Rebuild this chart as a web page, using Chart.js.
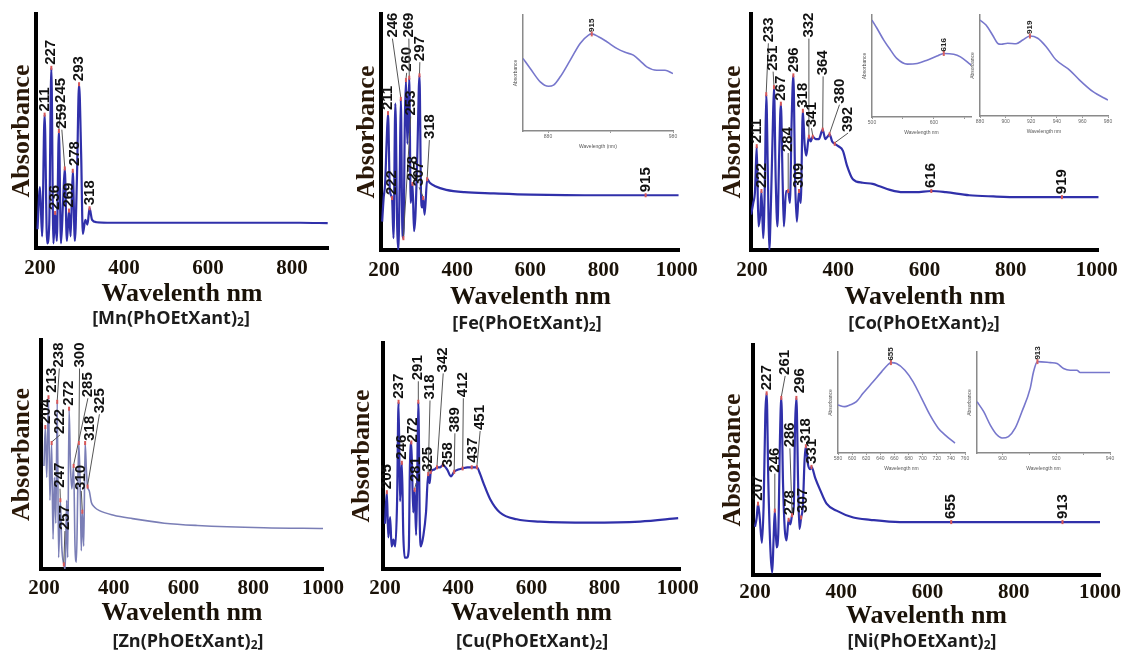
<!DOCTYPE html>
<html><head><meta charset="utf-8">
<script src="https://cdn.jsdelivr.net/npm/chart.js@4.4.1/dist/chart.umd.min.js"></script>
<style>
html,body{margin:0;padding:0;background:#fff;}
body{width:1127px;height:652px;position:relative;overflow:hidden;}
canvas{position:absolute;}
.cmp{position:absolute;transform:translate(-50%,-50%);font-family:"Open Sans","Noto Sans",sans-serif;font-weight:700;font-size:18px;color:#1c1c1c;white-space:nowrap;line-height:1;}
.cmp sub{font-size:12px;vertical-align:-2px;}
</style></head><body>
<script>
// ---------- data ----------
const ticksMn = [200, 400, 600, 800];
const ticksFull = [200, 400, 600, 800, 1000];

const mnWl  = [194, 200, 205, 211, 217, 222, 227, 232, 236, 240, 245, 250, 255, 259, 264, 269, 273, 278, 283, 288, 293, 298, 302, 308, 313, 318, 324, 335, 360, 500, 700, 820, 885];
const mnAbs = [0.08, 0.26, 0.05, 0.57, 0.02, 0.10, 0.77, 0.02, 0.15, 0.03, 0.50, 0.02, 0.20, 0.34, 0.03, 0.16, 0.05, 0.33, 0.03, 0.30, 0.70, 0.40, 0.06, 0.12, 0.10, 0.17, 0.12, 0.11, 0.108, 0.108, 0.108, 0.108, 0.106];
const mnPeaks = [211, 227, 236, 245, 259, 269, 278, 293, 318];

const feWl  = [195, 199, 203, 207, 211, 216, 222, 226, 231, 236, 239, 243, 246, 250, 253, 257, 260, 264, 269, 273, 278, 282, 286, 291, 297, 301, 304, 307, 311, 318, 325, 340, 370, 420, 500, 600, 800, 915, 1005];
const feAbs = [0.12, 0.22, 0.28, 0.45, 0.58, 0.25, 0.22, 0.05, 0.62, 0.10, 0.00, 0.30, 0.64, 0.10, 0.05, 0.55, 0.72, 0.45, 0.73, 0.20, 0.28, 0.08, 0.15, 0.40, 0.74, 0.25, 0.18, 0.22, 0.15, 0.30, 0.285, 0.27, 0.255, 0.245, 0.24, 0.235, 0.232, 0.232, 0.232];
const fePeaks = [211, 222, 246, 253, 260, 269, 278, 297, 307, 318, 915];

const coWl  = [198, 203, 207, 211, 215, 219, 222, 226, 230, 233, 237, 240, 244, 248, 251, 255, 259, 263, 267, 271, 274, 279, 284, 288, 292, 296, 300, 304, 309, 313, 318, 322, 326, 332, 336, 341, 348, 355, 364, 370, 375, 380, 386, 392, 400, 411, 420, 434, 457, 480, 496, 520, 550, 580, 616, 650, 704, 760, 820, 919, 1004];
const coAbs = [0.15, 0.20, 0.25, 0.44, 0.10, 0.15, 0.25, 0.05, 0.30, 0.66, 0.30, 0.00, 0.20, 0.50, 0.69, 0.30, 0.10, 0.40, 0.62, 0.30, 0.10, 0.25, 0.25, 0.20, 0.55, 0.74, 0.30, 0.12, 0.25, 0.20, 0.59, 0.45, 0.40, 0.48, 0.46, 0.48, 0.47, 0.47, 0.51, 0.47, 0.48, 0.49, 0.46, 0.45, 0.44, 0.42, 0.36, 0.30, 0.285, 0.28, 0.27, 0.255, 0.245, 0.245, 0.25, 0.245, 0.232, 0.227, 0.224, 0.224, 0.224];
const coPeaks = [211, 222, 233, 251, 267, 284, 296, 309, 318, 332, 341, 364, 380, 392, 616, 919];

const znWl  = [200, 204, 208, 213, 217, 222, 226, 230, 234, 238, 242, 247, 251, 257, 261, 265, 268, 272, 276, 280, 285, 289, 293, 297, 300, 304, 307, 310, 314, 318, 322, 325, 330, 336, 345, 359, 400, 454, 545, 640, 830, 1000];
const znAbs = [0.45, 0.62, 0.40, 0.75, 0.30, 0.55, 0.13, 0.40, 0.20, 0.73, 0.05, 0.30, 0.10, 0.02, 0.00, 0.30, 0.05, 0.70, 0.45, 0.35, 0.45, 0.10, 0.03, 0.35, 0.55, 0.35, 0.08, 0.25, 0.10, 0.55, 0.42, 0.36, 0.34, 0.29, 0.27, 0.255, 0.235, 0.22, 0.20, 0.19, 0.18, 0.177];
const znPeaks = [204, 213, 222, 238, 247, 257, 272, 285, 300, 310, 318, 325];

const cuWl  = [200, 205, 209, 214, 218, 223, 228, 233, 237, 241, 246, 250, 254, 260, 265, 268, 272, 277, 281, 285, 288, 291, 295, 298, 305, 312, 318, 322, 325, 335, 342, 350, 358, 370, 380, 389, 400, 412, 425, 437, 451, 460, 469, 487, 514, 560, 623, 760, 897, 1001];
const cuAbs = [0.20, 0.34, 0.14, 0.23, 0.10, 0.13, 0.10, 0.30, 0.74, 0.30, 0.47, 0.15, 0.05, 0.05, 0.09, 0.45, 0.56, 0.25, 0.35, 0.15, 0.40, 0.74, 0.20, 0.10, 0.15, 0.25, 0.42, 0.38, 0.43, 0.44, 0.45, 0.45, 0.46, 0.44, 0.41, 0.43, 0.44, 0.445, 0.45, 0.45, 0.45, 0.42, 0.38, 0.31, 0.25, 0.22, 0.21, 0.205, 0.21, 0.225];
const cuPeaks = [205, 237, 246, 272, 281, 291, 318, 325, 342, 358, 389, 412, 437, 451];

const niWl  = [200, 204, 207, 211, 216, 220, 224, 227, 231, 236, 240, 243, 246, 250, 254, 258, 261, 265, 269, 273, 278, 282, 286, 290, 293, 296, 300, 303, 307, 311, 315, 318, 323, 328, 331, 340, 351, 366, 389, 428, 467, 536, 655, 913, 1000];
const niAbs = [0.21, 0.25, 0.31, 0.25, 0.14, 0.30, 0.70, 0.79, 0.40, 0.10, 0.01, 0.15, 0.28, 0.12, 0.18, 0.60, 0.77, 0.40, 0.20, 0.15, 0.24, 0.22, 0.26, 0.30, 0.65, 0.77, 0.40, 0.20, 0.25, 0.30, 0.50, 0.56, 0.48, 0.46, 0.47, 0.42, 0.37, 0.31, 0.28, 0.25, 0.24, 0.23, 0.23, 0.23, 0.23];
const niPeaks = [207, 227, 246, 261, 278, 286, 296, 307, 318, 331, 655, 913];

// inset spectra
const feInWl  = [860, 865.8, 873.8, 880.4, 884.4, 889.8, 897.8, 905.7, 912.4, 915, 920.4, 927.1, 935, 941.7, 948.3, 953.7, 959, 967, 973.6, 980];
const feInAbs = [0.626, 0.539, 0.424, 0.386, 0.395, 0.467, 0.611, 0.755, 0.827, 0.837, 0.813, 0.769, 0.712, 0.678, 0.654, 0.605, 0.553, 0.524, 0.524, 0.495];
const coIn1Wl  = [500, 508, 519, 530, 540, 557, 573, 589, 605, 616, 632, 643, 660];
const coIn1Abs = [0.95, 0.87, 0.754, 0.656, 0.574, 0.518, 0.525, 0.557, 0.597, 0.623, 0.616, 0.59, 0.511];
const coIn2Wl  = [880, 884.7, 889.9, 893.8, 896.5, 901.6, 908.2, 913.4, 919, 925.1, 931.7, 939.5, 950, 957.8, 968.3, 980];
const coIn2Abs = [0.95, 0.90, 0.80, 0.72, 0.71, 0.72, 0.716, 0.752, 0.792, 0.77, 0.686, 0.554, 0.455, 0.356, 0.241, 0.158];
const niIn1Wl  = [580, 589.5, 596.6, 606.1, 615.5, 629.7, 641.7, 651, 655, 662.9, 674.8, 686.5, 698.5, 710.3, 722.1, 731.6, 745.8];
const niIn1Abs = [0.475, 0.459, 0.475, 0.508, 0.591, 0.705, 0.803, 0.876, 0.895, 0.886, 0.82, 0.705, 0.541, 0.377, 0.246, 0.18, 0.098];
const niIn2Wl  = [890.5, 893, 895.4, 897.9, 899.8, 902.2, 904.7, 907.2, 910.3, 911.5, 913, 917.8, 920.3, 922.7, 925.2, 927.7, 928.9, 935.1, 940];
const niIn2Abs = [0.508, 0.409, 0.279, 0.18, 0.148, 0.163, 0.246, 0.409, 0.64, 0.80, 0.905, 0.895, 0.886, 0.837, 0.82, 0.82, 0.797, 0.797, 0.797];

// ---------- peak label plugin ----------
const peakPlugin = {
  id: 'peaks',
  afterDatasetsDraw(chart) {
    const cfg = chart.options.plugins.peaks;
    if (!cfg || !cfg.list) return;
    const ctx = chart.ctx, xs = chart.scales.x, ys = chart.scales.y;
    const ds = chart.data.datasets[0].data;
    ctx.save();
    cfg.list.forEach(p => {
      const pt = ds.find(d => d.x === p);
      if (!pt) return;
      const px = xs.getPixelForValue(p), py = ys.getPixelForValue(pt.y);
      const pos = cfg.pos ? cfg.pos[p] : null;
      let ax, ay;
      if (pos) {
        ax = xs.getPixelForValue(pos[0]); ay = ys.getPixelForValue(pos[1]);
        if (Math.hypot(ax - px, ay - py) > 7) {
          ctx.strokeStyle = cfg.leader; ctx.lineWidth = 1;
          ctx.beginPath(); ctx.moveTo(px, py - 1); ctx.lineTo(ax, ay + 1); ctx.stroke();
        }
      } else { ax = px; ay = py - cfg.gap; }
      ctx.fillStyle = cfg.mark;
      ctx.fillRect(px - 1, py - cfg.markR, 2, cfg.markR * 2);
      ctx.save();
      ctx.translate(ax, ay); ctx.rotate(-Math.PI / 2);
      ctx.font = cfg.font; ctx.fillStyle = cfg.color;
      ctx.textAlign = 'left'; ctx.textBaseline = 'middle';
      ctx.fillText(String(p), 0, 0);
      ctx.restore();
    });
    ctx.restore();
  }
};
Chart.register(peakPlugin);

const serif = '"Liberation Serif","DejaVu Serif",serif';

function mainChart(P) {
  const cx = P.axisX - 48, cy = P.top - 12;
  const cw = P.right - cx + 26;
  const xH = P.dT + 15.6, yW = P.yOff + 15.6;
  const ch = Math.round(P.axisY + xH + 4 - cy);
  const cv = document.createElement('canvas');
  cv.width = cw; cv.height = ch;
  cv.style.left = cx + 'px'; cv.style.top = cy + 'px';
  document.body.appendChild(cv);
  new Chart(cv, {
    type: 'line',
    data: { datasets: [{ data: P.wl.map((w, i) => ({ x: w, y: P.abs[i] })), borderColor: P.color, borderWidth: P.lw, pointRadius: 0, cubicInterpolationMode: 'monotone', fill: false }] },
    options: {
      responsive: false, animation: false, events: [],
      layout: { padding: { left: P.axisX - cx - yW, top: P.top - cy, right: cx + cw - P.right, bottom: ch - (P.axisY - cy) - xH } },
      plugins: {
        legend: { display: false }, tooltip: { enabled: false },
        peaks: { list: P.peaks, pos: P.pos, gap: 3, markR: 2, mark: '#d85858', leader: '#555', color: '#111', font: 'bold 15px "Liberation Sans", Arial, sans-serif' }
      },
      scales: {
        x: {
          type: 'linear', min: P.xMin, max: P.xMax,
          afterBuildTicks: s => { s.ticks = P.ticks.map(v => ({ value: v })); },
          afterFit: s => { s.height = xH; },
          grid: { display: false, drawTicks: false },
          border: { display: true, color: '#000', width: 4 },
          ticks: { autoSkip: false, maxRotation: 0, padding: P.dL - 12, color: '#1a1208', font: { family: serif, weight: 'bold', size: 21 }, callback: v => String(v) },
          title: { display: true, text: 'Wavelenth nm', color: '#1a1208', padding: 0, font: { family: serif, weight: 'bold', size: 26 } }
        },
        y: {
          type: 'linear', min: 0, max: 1,
          afterFit: s => { s.width = yW; },
          grid: { display: false, drawTicks: false },
          ticks: { display: false },
          border: { display: true, color: '#000', width: 4 },
          title: { display: true, text: 'Absorbance', color: '#2a1808', padding: 0, font: { family: serif, weight: 'bold', size: 26 } }
        }
      }
    }
  });
  const d = document.createElement('div');
  d.className = 'cmp';
  d.innerHTML = '[' + P.metal + '(PhOEtXant)<sub>2</sub>]';
  d.style.left = P.cmpX + 'px'; d.style.top = P.cmpY + 'px';
  document.body.appendChild(d);
}

function insetChart(I) {
  const yW = 10, xH = 19;
  const cx = Math.round(I.left - yW - 4), cy = Math.round(I.top - 6);
  const cw = Math.round(I.right - cx + 8), ch = Math.round(I.bottom + xH + 2 - cy);
  const cv = document.createElement('canvas');
  cv.width = cw; cv.height = ch;
  cv.style.left = cx + 'px'; cv.style.top = cy + 'px';
  document.body.appendChild(cv);
  const small = { family: '"Liberation Sans", Arial, sans-serif', size: 5 };
  new Chart(cv, {
    type: 'line',
    data: { datasets: [{ data: I.wl.map((w, i) => ({ x: w, y: I.abs[i] })), borderColor: '#7777cc', borderWidth: 1.6, pointRadius: 0, cubicInterpolationMode: 'monotone', fill: false }] },
    options: {
      responsive: false, animation: false, events: [],
      layout: { padding: { left: I.left - cx - yW, top: I.top - cy, right: cx + cw - I.right, bottom: ch - (I.bottom - cy) - xH } },
      plugins: {
        legend: { display: false }, tooltip: { enabled: false },
        peaks: { list: [I.peak], gap: 2, markR: 2.5, mark: '#d86060', leader: '#555', color: '#222', font: 'bold 8px "Liberation Sans", Arial, sans-serif' }
      },
      scales: {
        x: {
          type: 'linear', min: I.xMin, max: I.xMax,
          afterBuildTicks: s => { s.ticks = I.ticks.map(v => ({ value: v })); },
          afterFit: s => { s.height = xH; },
          grid: { display: true, drawOnChartArea: false, drawTicks: true, tickLength: 2, color: '#999' },
          border: { display: true, color: '#8a8a8a', width: 1.5 },
          ticks: { autoSkip: false, maxRotation: 0, padding: 1, color: '#666', font: small, callback: v => I.labels.includes(v) ? String(v) : '' },
          title: { display: true, text: I.xTitle, color: '#555', padding: 0, font: small }
        },
        y: {
          type: 'linear', min: 0, max: 1,
          afterFit: s => { s.width = yW; },
          grid: { display: false, drawTicks: false },
          ticks: { display: false },
          border: { display: true, color: '#8a8a8a', width: 1.5 },
          title: { display: true, text: 'Absorbance', color: '#555', padding: 0, font: small }
        }
      }
    }
  });
}

// ---------- panels ----------
mainChart({ metal: 'Mn', wl: mnWl, abs: mnAbs, peaks: mnPeaks, ticks: ticksMn, color: '#3030aa', lw: 2.2,
  pos: { 245: [250, 0.62], 259: [252, 0.51], 278: [284, 0.35] },
  axisX: 36, top: 14, right: 328, axisY: 248, xMin: 190.5, xMax: 885.7, yOff: 14, dL: 20, dT: 46, cmpX: 171, cmpY: 318 });
mainChart({ metal: 'Fe', wl: feWl, abs: feAbs, peaks: fePeaks, ticks: ticksFull, color: '#3030aa', lw: 2.2,
  pos: { 246: [223, 0.90], 253: [273, 0.57], 260: [262, 0.755], 269: [268, 0.90], 297: [298, 0.80], 307: [296, 0.27], 318: [324, 0.47] },
  axisX: 381, top: 14, right: 680, axisY: 250, xMin: 191.8, xMax: 1008.7, yOff: 14, dL: 20, dT: 47, cmpX: 527, cmpY: 323 });
mainChart({ metal: 'Co', wl: coWl, abs: coAbs, peaks: coPeaks, ticks: ticksFull, color: '#3030aa', lw: 2.2,
  pos: { 233: [238, 0.88], 251: [249, 0.76], 284: [284, 0.415], 332: [332, 0.90], 341: [338, 0.52], 364: [365, 0.74], 380: [403, 0.62], 392: [423, 0.50] },
  axisX: 751, top: 14, right: 1100, axisY: 250, xMin: 197.7, xMax: 1004.6, yOff: 18, dL: 20, dT: 47, cmpX: 924, cmpY: 323 });
mainChart({ metal: 'Zn', wl: znWl, abs: znAbs, peaks: znPeaks, ticks: ticksFull, color: '#7a7eb6', lw: 1.6,
  pos: { 213: [222, 0.77], 238: [244, 0.88], 222: [246, 0.59], 247: [246, 0.355], 257: [260, 0.17], 300: [302, 0.88], 285: [326, 0.75], 318: [331, 0.56], 325: [359, 0.68], 310: [307, 0.345] },
  axisX: 41, top: 340, right: 325, axisY: 569, xMin: 191.5, xMax: 1000, yOff: 19, dL: 19, dT: 44, cmpX: 188, cmpY: 641 });
mainChart({ metal: 'Cu', wl: cuWl, abs: cuAbs, peaks: cuPeaks, ticks: ticksFull, color: '#3030aa', lw: 2.2,
  pos: { 272: [277, 0.56], 281: [285, 0.385], 291: [291, 0.835], 318: [323, 0.75], 325: [318, 0.43], 342: [359, 0.87], 358: [373, 0.45], 389: [391, 0.605], 412: [414, 0.76], 437: [441, 0.47], 451: [460, 0.615] },
  axisX: 383, top: 343, right: 680, axisY: 569, xMin: 194.5, xMax: 1006, yOff: 21, dL: 19, dT: 44, cmpX: 532, cmpY: 641 });
mainChart({ metal: 'Ni', wl: niWl, abs: niAbs, peaks: niPeaks, ticks: ticksFull, color: '#3030aa', lw: 2.2,
  pos: { 246: [246, 0.445], 261: [270, 0.87], 286: [281, 0.555], 278: [281, 0.26], 296: [305, 0.79], 307: [310, 0.27] },
  axisX: 753, top: 345, right: 1100, axisY: 575, xMin: 195.4, xMax: 1000, yOff: 20, dL: 17, dT: 41, cmpX: 922, cmpY: 641 });

// ---------- insets ----------
insetChart({ wl: feInWl, abs: feInAbs, peak: 915, xMin: 860, xMax: 980, ticks: [880, 930, 980], labels: [880, 980], xTitle: 'Wavelength (nm)',
  left: 523, top: 15, right: 673, bottom: 131 });
insetChart({ wl: coIn1Wl, abs: coIn1Abs, peak: 616, xMin: 500, xMax: 660, ticks: [500, 550, 600, 650], labels: [500, 600], xTitle: 'Wavelength nm',
  left: 872, top: 15, right: 971, bottom: 117 });
insetChart({ wl: coIn2Wl, abs: coIn2Abs, peak: 919, xMin: 880, xMax: 980, ticks: [880, 900, 920, 940, 960, 980], labels: [880, 900, 920, 940, 960, 980], xTitle: 'Wavelength nm',
  left: 980, top: 15, right: 1108, bottom: 116 });
insetChart({ wl: niIn1Wl, abs: niIn1Abs, peak: 655, xMin: 580, xMax: 760, ticks: [580, 600, 620, 640, 660, 680, 700, 720, 740, 760], labels: [580, 600, 620, 640, 660, 680, 700, 720, 740, 760], xTitle: 'Wavelength nm',
  left: 838, top: 352, right: 965, bottom: 453 });
insetChart({ wl: niIn2Wl, abs: niIn2Abs, peak: 913, xMin: 890.5, xMax: 940, ticks: [900, 910, 920, 930, 940], labels: [900, 920, 940], xTitle: 'Wavelength nm',
  left: 977, top: 352, right: 1110, bottom: 453 });
</script>
</body></html>
